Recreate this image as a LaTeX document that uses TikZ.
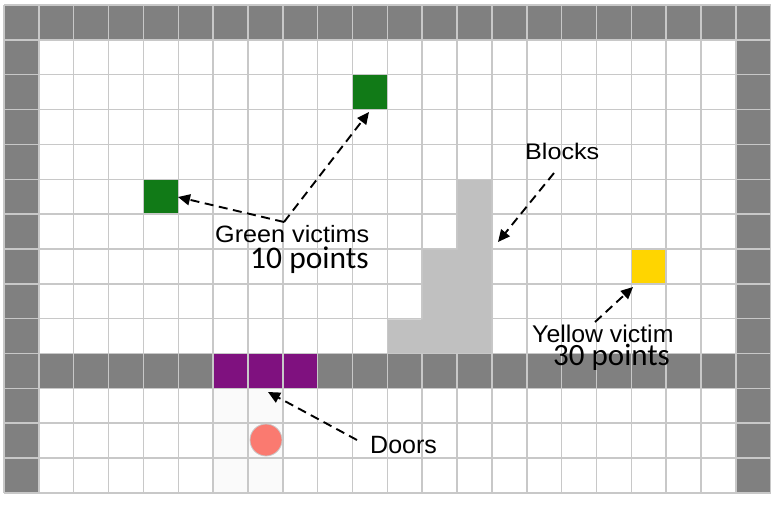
\documentclass[tikz,border=0pt]{standalone}
\usepackage{fontspec}
\setmainfont{Liberation Sans}
\newfontfamily\calibfont{Carlito}
\usetikzlibrary{arrows.meta}
\definecolor{wallgray}{HTML}{808080}
\definecolor{linegray}{HTML}{C8C8C8}
\definecolor{blockgray}{HTML}{C0C0C0}
\definecolor{doorpurple}{HTML}{7F117F}
\definecolor{victimgreen}{HTML}{117A17}
\definecolor{victimyellow}{HTML}{FFD500}
\definecolor{agentred}{HTML}{FA7A70}
\definecolor{floorpale}{HTML}{FAFAFA}
\tikzset{
  cellfill/.style={inner sep=0pt, minimum size=34.85pt, draw=none},
  arr/.style={draw=black, line width=1.9pt, dash pattern=on 9pt off 5.5pt,
    -{Triangle[length=12pt,width=11pt]}},
  lbl/.style={anchor=base west, inner sep=0pt},
}
\begin{document}
\begin{tikzpicture}[x=1pt,y=-1pt]
\useasboundingbox (0,0) rectangle (775,504);
\fill[white] (0,0) rectangle (775,504);
% pale floor under doors
\foreach \r in {11,12,13} \foreach \c in {6,7}
  \fill[floorpale] ({4+\c*34.85},{5+\r*34.85}) rectangle ++(34.85,34.85);
% walls
\foreach \c in {0,...,21}
  \fill[wallgray] ({4+\c*34.85},5) rectangle ++(34.85,34.85);
\foreach \r in {1,...,13} {
  \fill[wallgray] (4,{5+\r*34.85}) rectangle ++(34.85,34.85);
  \fill[wallgray] ({4+21*34.85},{5+\r*34.85}) rectangle ++(34.85,34.85);
}
\foreach \c in {1,...,5,9,10,...,20}
  \fill[wallgray] ({4+\c*34.85},{5+10*34.85}) rectangle ++(34.85,34.85);
% doors
\node[cellfill, fill=doorpurple] (door1) at ({4+6.5*34.85},{5+10.5*34.85}) {};
\node[cellfill, fill=doorpurple] (door2) at ({4+7.5*34.85},{5+10.5*34.85}) {};
\node[cellfill, fill=doorpurple] (door3) at ({4+8.5*34.85},{5+10.5*34.85}) {};
% victims
\node[cellfill, fill=victimgreen] (g1) at ({4+4.5*34.85},{5+5.5*34.85}) {};
\node[cellfill, fill=victimgreen] (g2) at ({4+10.5*34.85},{5+2.5*34.85}) {};
\node[cellfill, fill=victimyellow] (y1) at ({4+18.5*34.85},{5+7.5*34.85}) {};
% grid lines
\foreach \i in {0,...,22}
  \draw[linegray, line width=1.5pt] ({4+\i*34.85},5) -- ({4+\i*34.85},{5+14*34.85});
\foreach \j in {0,...,14}
  \draw[linegray, line width=1.5pt] (4,{5+\j*34.85}) -- ({4+22*34.85},{5+\j*34.85});
% blocks
\fill[blockgray] ({4+13*34.85+0.75},{5+5*34.85+0.75}) -- ({4+14*34.85-0.75},{5+5*34.85+0.75})
  -- ({4+14*34.85-0.75},{5+10*34.85-0.75}) -- ({4+11*34.85+0.75},{5+10*34.85-0.75})
  -- ({4+11*34.85+0.75},{5+9*34.85+0.75}) -- ({4+12*34.85+0.75},{5+9*34.85+0.75})
  -- ({4+12*34.85+0.75},{5+7*34.85+0.75}) -- ({4+13*34.85+0.75},{5+7*34.85+0.75}) -- cycle;
% agent
\node[circle, fill=agentred, draw=linegray, line width=0.8pt, minimum size=32pt, inner sep=0pt]
  (agent) at (266,440) {};
% labels
\node[lbl] (lgreen) at (215,242) {\scalebox{1.12}[1.05]{\fontsize{22.5}{26}\selectfont Green victims}};
\node[lbl] (lgreenpts) at (250,268) {\calibfont\fontsize{31.5}{34}\selectfont 10 points};
\node[lbl] (lblocks) at (525,159) {\scalebox{1.17}[1.05]{\fontsize{21.5}{24}\selectfont Blocks}};
\node[lbl] (lyellow) at (532,342) {\scalebox{1.08}[1.05]{\fontsize{23}{26}\selectfont Yellow victim}};
\node[lbl] (lyellowpts) at (553,365) {\calibfont\fontsize{31}{34}\selectfont 30 points};
\node[lbl] (ldoors) at (370,453) {\fontsize{25}{28}\selectfont Doors};
% arrow ends
\coordinate (tGreen) at (284,222);
\coordinate (hG1) at (178,197);
\coordinate (hG2) at (369,112);
\coordinate (tBlocks) at (554,173);
\coordinate (hBlocks) at (498,242);
\coordinate (tYellow) at (595,322);
\coordinate (hYellow) at (633,287);
\coordinate (tDoors) at (357,440);
\coordinate (hDoors) at (268,392);
\draw[arr] (tGreen) -- (hG1);
\draw[arr] (tGreen) -- (hG2);
\draw[arr] (tBlocks) -- (hBlocks);
\draw[arr] (tYellow) -- (hYellow);
\draw[arr] (tDoors) -- (hDoors);
\end{tikzpicture}
\end{document}
